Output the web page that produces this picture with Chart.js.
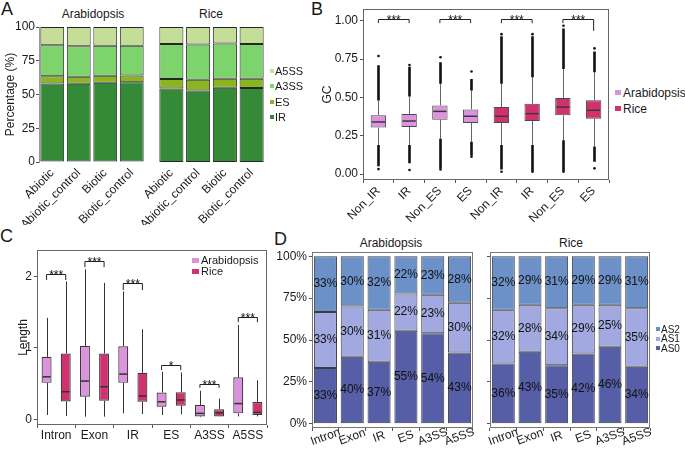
<!DOCTYPE html>
<html>
<head>
<meta charset="utf-8">
<script src="https://cdn.jsdelivr.net/npm/chart.js@4.4.1/dist/chart.umd.min.js"></script>
<style>
  body { margin: 0; background: #fff; font-family: "Liberation Sans", Arial, sans-serif; color: #1a1a1a; }
  #page { position: relative; width: 685px; height: 449px; overflow: hidden; }
  canvas, .txt, .legend { position: absolute; }
  .txt { font-size: 12px; line-height: 12px; white-space: nowrap; text-align: center; width: 120px; }
  .letter { font-size: 18px; line-height: 18px; text-align: left; width: 20px; }
  .legend div { white-space: nowrap; }
  .legend i { display: inline-block; vertical-align: middle; position: relative; top: -1px; }
</style>
</head>
<body>
<div id="page">
  <div class="txt letter" style="left:1px;top:0px">A</div>
  <div class="txt letter" style="left:311px;top:0px">B</div>
  <div class="txt letter" style="left:0px;top:227px">C</div>
  <div class="txt letter" style="left:274px;top:230px">D</div>
  <div class="txt" style="left:33px;top:8px">Arabidopsis</div>
  <div class="txt" style="left:151px;top:8px">Rice</div>
  <div class="txt" style="left:331px;top:237px">Arabidopsis</div>
  <div class="txt" style="left:511px;top:237px">Rice</div>

  <canvas id="chartA1" width="150" height="225" style="left:0;top:0"></canvas>
  <canvas id="chartA2" width="150" height="225" style="left:120px;top:0"></canvas>
  <canvas id="chartB" width="297" height="225" style="left:318px;top:0"></canvas>
  <canvas id="chartC" width="275" height="221" style="left:0;top:228px"></canvas>
  <canvas id="chartD1" width="206" height="221" style="left:272px;top:228px"></canvas>
  <canvas id="chartD2" width="195" height="221" style="left:460px;top:228px"></canvas>

  <div class="legend" id="legA" style="left:270px;top:64px;font-size:11px;line-height:15.3px"></div>
  <div class="legend" id="legB" style="left:615px;top:85px;font-size:12px;line-height:16px"></div>
  <div class="legend" id="legC" style="left:192px;top:255px;font-size:11px;line-height:11px"></div>
  <div class="legend" id="legD" style="left:656px;top:325px;font-size:10px;line-height:9.3px"></div>
</div>

<script>
// ---------- A: AS type share per condition ----------
const aConditions = ['Abiotic', 'Abiotic_control', 'Biotic', 'Biotic_control'];
const aTypes = ['IR', 'ES', 'A3SS', 'A5SS'];
const aColors = ['#358a38', '#8ab520', '#7dd46c', '#c4de98'];
const aTicks = [0, 25, 50, 75, 100];
const arabIR   = [58.2, 58.0, 58.7, 59.0];
const arabES   = [5.4, 5.1, 5.2, 5.1];
const arabA3SS = [22.8, 22.6, 22.3, 22.1];
const arabA5SS = [13.6, 14.3, 13.8, 13.8];
const riceIR   = [54.5, 53.0, 55.0, 54.8];
const riceES   = [6.9, 8.0, 6.7, 6.9];
const riceA3SS = [26.1, 26.0, 26.0, 25.8];
const riceA5SS = [12.5, 13.0, 12.3, 12.5];

// ---------- B: GC content boxplots ----------
const gcLabels  = ['Non_IR', 'IR', 'Non_ES', 'ES', 'Non_IR', 'IR', 'Non_ES', 'ES'];
const gcSpecies = ['Arabidopsis', 'Arabidopsis', 'Arabidopsis', 'Arabidopsis', 'Rice', 'Rice', 'Rice', 'Rice'];
const gcTicks   = [0, 0.25, 0.5, 0.75, 1];
const gcMin      = [0.032, 0.026, 0.030, 0.113, 0.015, 0.015, 0.015, 0.037];
const gcDenseLow = [0.050, 0.070, 0.035, 0.120, 0.030, 0.020, 0.020, 0.080];
const gcLow      = [0.190, 0.190, 0.230, 0.210, 0.190, 0.190, 0.220, 0.180];
const gcQ1       = [0.303, 0.307, 0.355, 0.333, 0.333, 0.346, 0.383, 0.361];
const gcMedian   = [0.340, 0.346, 0.409, 0.377, 0.377, 0.394, 0.437, 0.416];
const gcQ3       = [0.383, 0.392, 0.448, 0.422, 0.437, 0.459, 0.496, 0.481];
const gcHigh     = [0.480, 0.506, 0.590, 0.545, 0.590, 0.632, 0.686, 0.665];
const gcDenseHigh= [0.710, 0.700, 0.730, 0.620, 0.900, 0.900, 0.950, 0.800];
const gcMax      = [0.770, 0.712, 0.762, 0.669, 0.913, 0.913, 0.968, 0.820];
const gcSigFrom  = [0, 2, 4, 6];
const gcSigTo    = [1, 3, 5, 7];
const gcSigY     = [1.015, 1.015, 1.015, 1.015];
const gcSigLeft  = [0.985, 0.985, 0.985, 0.985];
const gcSigRight = [0.985, 0.985, 0.985, 0.935];

const speciesNames  = ['Arabidopsis', 'Rice'];
const speciesColors = ['#dc92dd', '#d1326f'];

// ---------- C: length boxplots ----------
const lenTypes = ['Intron', 'Exon', 'IR', 'ES', 'A3SS', 'A5SS'];
const lenTicks = [0, 1, 2];
const arabLenMin = [0.060, 0.037, 0.084, 0.060, 0.030, 0.040];
const arabLenQ1  = [0.510, 0.316, 0.510, 0.175, 0.040, 0.083];
const arabLenMed = [0.595, 0.535, 0.633, 0.245, 0.083, 0.220];
const arabLenQ3  = [0.874, 1.028, 1.023, 0.375, 0.200, 0.587];
const arabLenMax = [1.420, 2.100, 1.790, 0.665, 0.400, 1.320];
const riceLenMin = [0.047, 0.037, 0.074, 0.070, 0.037, 0.040];
const riceLenQ1  = [0.250, 0.260, 0.247, 0.190, 0.040, 0.060];
const riceLenMed = [0.386, 0.456, 0.326, 0.270, 0.090, 0.095];
const riceLenQ3  = [0.920, 0.920, 0.651, 0.380, 0.140, 0.243];
const riceLenMax = [1.930, 1.910, 1.260, 0.656, 0.290, 0.545];
const lenSigY     = [2.04, 2.21, 1.91, 0.76, 0.50, 1.43];
const lenSigLeft  = [1.95, 2.13, 1.81, 0.69, 0.44, 1.36];
const lenSigRight = [1.95, 2.13, 1.81, 0.69, 0.44, 1.36];
const lenSigText  = ['***', '***', '***', '*', '***', '***'];

// ---------- D: AS0/AS1/AS2 share ----------
const asTypes  = ['Intron', 'Exon', 'IR', 'ES', 'A3SS', 'A5SS'];
const asGroups = ['AS0', 'AS1', 'AS2'];
const asColors = ['#555ea6', '#a1a9e0', '#6b91c8'];
const asTicks  = [0, 25, 50, 75, 100];
const arabAS0 = [33, 40, 37, 55, 54, 43];
const arabAS1 = [33, 30, 31, 22, 23, 30];
const arabAS2 = [33, 30, 32, 22, 23, 28];
const riceAS0 = [36, 43, 35, 42, 46, 34];
const riceAS1 = [32, 28, 34, 29, 25, 35];
const riceAS2 = [32, 29, 31, 29, 29, 31];

Chart.defaults.font.family = '"Liberation Sans", Arial, sans-serif';
Chart.defaults.font.size = 12;
Chart.defaults.color = '#1a1a1a';
Chart.defaults.animation = false;
Chart.defaults.plugins.legend.display = false;
Chart.defaults.plugins.tooltip.enabled = false;

function fixWidth(w) { return s => { s.width = w; }; }
function fixHeight(h) { return s => { s.height = h; }; }
function tickAt(vals) { return s => { s.ticks = vals.map(v => ({ value: v })); }; }
const tickGrid = { display: true, drawOnChartArea: false, drawTicks: true, tickLength: 3, color: '#555' };

// panel frame round the plot area
const framePlugin = {
  id: 'frame',
  afterDraw(chart, args, opts) {
    if (!opts.color) return;
    const a = chart.chartArea, ctx = chart.ctx;
    ctx.save();
    ctx.strokeStyle = opts.color;
    ctx.lineWidth = 1;
    ctx.strokeRect(Math.round(a.left) + 0.5, Math.round(a.top) + 0.5,
      Math.round(a.right - a.left) - 1, Math.round(a.bottom - a.top) - 1);
    ctx.restore();
  }
};

// whiskers, medians and outliers for floating-bar boxes
const whiskerPlugin = {
  id: 'whiskers',
  afterDatasetsDraw(chart) {
    const ctx = chart.ctx, y = chart.scales.y;
    chart.data.datasets.forEach((ds, di) => {
      const b = ds.box;
      if (!b) return;
      chart.getDatasetMeta(di).data.forEach((bar, i) => {
        const x = Math.round(bar.x) + 0.5, half = bar.width / 2;
        ctx.save();
        ctx.strokeStyle = b.whisker;
        ctx.lineWidth = 1;
        ctx.beginPath();
        ctx.moveTo(x, y.getPixelForValue(b.q3[i])); ctx.lineTo(x, y.getPixelForValue(b.hi[i]));
        ctx.moveTo(x, y.getPixelForValue(b.q1[i])); ctx.lineTo(x, y.getPixelForValue(b.lo[i]));
        ctx.stroke();
        if (b.denseHi) {
          ctx.strokeStyle = '#111';
          ctx.lineWidth = 2.6;
          ctx.beginPath();
          ctx.moveTo(x, y.getPixelForValue(b.hi[i])); ctx.lineTo(x, y.getPixelForValue(b.denseHi[i]));
          ctx.moveTo(x, y.getPixelForValue(b.lo[i])); ctx.lineTo(x, y.getPixelForValue(b.denseLo[i]));
          ctx.stroke();
          ctx.fillStyle = '#111';
          [b.max[i], b.min[i]].forEach(v => {
            ctx.beginPath();
            ctx.arc(x, y.getPixelForValue(v), 1.3, 0, Math.PI * 2);
            ctx.fill();
          });
        }
        ctx.strokeStyle = b.medianColor;
        ctx.lineWidth = 1.5;
        ctx.beginPath();
        const my = y.getPixelForValue(b.med[i]);
        ctx.moveTo(bar.x - half + 1, my); ctx.lineTo(bar.x + half - 1, my);
        ctx.stroke();
        ctx.restore();
      });
    });
  }
};

// significance brackets with stars
const sigPlugin = {
  id: 'sig',
  afterDatasetsDraw(chart, args, opts) {
    if (!opts.items) return;
    const ctx = chart.ctx, y = chart.scales.y;
    opts.items.forEach(it => {
      const xa = chart.getDatasetMeta(it.a[0]).data[it.a[1]].x;
      const xb = chart.getDatasetMeta(it.b[0]).data[it.b[1]].x;
      const py = Math.round(y.getPixelForValue(it.y)) + 0.5;
      ctx.save();
      ctx.strokeStyle = '#222';
      ctx.lineWidth = 1;
      ctx.beginPath();
      ctx.moveTo(xa, y.getPixelForValue(it.ya));
      ctx.lineTo(xa, py); ctx.lineTo(xb, py);
      ctx.lineTo(xb, y.getPixelForValue(it.yb));
      ctx.stroke();
      ctx.fillStyle = '#111';
      ctx.font = '12px "Liberation Sans", Arial, sans-serif';
      ctx.textAlign = 'center';
      ctx.textBaseline = 'alphabetic';
      ctx.fillText(it.text, (xa + xb) / 2, py + 4);
      ctx.restore();
    });
  }
};

// percent labels in the middle of each stacked segment
const segLabelPlugin = {
  id: 'segLabels',
  afterDatasetsDraw(chart) {
    const ctx = chart.ctx;
    chart.data.datasets.forEach((ds, di) => {
      if (!ds.segLabels) return;
      chart.getDatasetMeta(di).data.forEach((bar, i) => {
        ctx.save();
        ctx.fillStyle = '#111';
        ctx.font = '12px "Liberation Sans", Arial, sans-serif';
        ctx.textAlign = 'center';
        ctx.textBaseline = 'middle';
        ctx.fillText(ds.segLabels[i] + '%', bar.x, (bar.y + bar.base) / 2);
        ctx.restore();
      });
    });
  }
};

// slanted, centred category labels (panel D)
const slantPlugin = {
  id: 'slant',
  afterDraw(chart, args, opts) {
    const ctx = chart.ctx, xs = chart.scales.x;
    chart.data.labels.forEach((t, i) => {
      ctx.save();
      ctx.translate(xs.getPixelForValue(i), xs.top + opts.offset);
      ctx.rotate(-opts.angle * Math.PI / 180);
      ctx.fillStyle = '#1a1a1a';
      ctx.font = '12px "Liberation Sans", Arial, sans-serif';
      ctx.textAlign = 'center';
      ctx.textBaseline = 'middle';
      ctx.fillText(t, 0, 0);
      ctx.restore();
    });
  }
};

Chart.register(framePlugin, whiskerPlugin, sigPlugin, segLabelPlugin);

// ---------- panel A ----------
function shareChart(id, rows, showY, yWidth) {
  return new Chart(document.getElementById(id), {
    type: 'bar',
    data: {
      labels: aConditions,
      datasets: aTypes.map((t, k) => ({
        label: t, data: rows[k], backgroundColor: aColors[k],
        borderColor: '#262626', borderWidth: 1, borderSkipped: false,
        barPercentage: 0.9, categoryPercentage: 1
      }))
    },
    options: {
      responsive: false,
      layout: { padding: { left: 0, right: 5, top: 27, bottom: 0 } },
      scales: {
        x: {
          stacked: true, grid: { display: false, drawTicks: false }, border: { display: false },
          ticks: { minRotation: 45, maxRotation: 45, autoSkip: false, padding: 4 },
          afterFit: fixHeight(63)
        },
        y: {
          stacked: true, display: showY, min: 0, max: 100, afterBuildTicks: tickAt(aTicks),
          grid: tickGrid, border: { display: true, color: '#999' },
          ticks: { padding: 1 },
          title: { display: true, text: 'Percentage (%)', padding: { top: 3, bottom: 0 } },
          afterFit: fixWidth(yWidth)
        }
      }
    }
  });
}
shareChart('chartA1', [arabIR, arabES, arabA3SS, arabA5SS], true, 39);
shareChart('chartA2', [riceIR, riceES, riceA3SS, riceA5SS], false, 38);

// ---------- panel B ----------
new Chart(document.getElementById('chartB'), {
  type: 'bar',
  data: {
    labels: gcLabels,
    datasets: [{
      data: gcQ1.map((v, i) => [v, gcQ3[i]]),
      backgroundColor: gcSpecies.map(s => speciesColors[speciesNames.indexOf(s)]),
      borderColor: '#4a4a4a', borderWidth: 1, borderSkipped: false,
      barPercentage: 0.5, categoryPercentage: 1,
      box: { q1: gcQ1, q3: gcQ3, med: gcMedian, lo: gcLow, hi: gcHigh,
             denseLo: gcDenseLow, denseHi: gcDenseHigh, min: gcMin, max: gcMax,
             whisker: '#666', medianColor: '#3a3a3a' }
    }]
  },
  options: {
    responsive: false,
    layout: { padding: { left: 0, right: 6, top: 8, bottom: 0 } },
    plugins: {
      frame: { color: '#666' },
      sig: { items: gcSigFrom.map((f, k) => ({ a: [0, f], b: [0, gcSigTo[k]], y: gcSigY[k], ya: gcSigLeft[k], yb: gcSigRight[k], text: '***' })) }
    },
    scales: {
      x: {
        grid: tickGrid, border: { display: false },
        ticks: { minRotation: 45, maxRotation: 45, autoSkip: false, padding: 1 },
        afterFit: fixHeight(45)
      },
      y: {
        min: -0.039, max: 1.076, afterBuildTicks: tickAt(gcTicks),
        grid: tickGrid, border: { display: false },
        ticks: { padding: 2, callback: v => v.toFixed(2) },
        title: { display: true, text: 'GC', padding: { top: 2, bottom: 0 } },
        afterFit: fixWidth(45)
      }
    }
  }
});

// ---------- panel C ----------
const lenStats = [
  { q1: arabLenQ1, q3: arabLenQ3, med: arabLenMed, lo: arabLenMin, hi: arabLenMax },
  { q1: riceLenQ1, q3: riceLenQ3, med: riceLenMed, lo: riceLenMin, hi: riceLenMax }
];
new Chart(document.getElementById('chartC'), {
  type: 'bar',
  data: {
    labels: lenTypes,
    datasets: lenStats.map((st, k) => ({
      label: speciesNames[k],
      data: st.q1.map((v, i) => [v, st.q3[i]]),
      backgroundColor: speciesColors[k],
      borderColor: '#3a3a3a', borderWidth: 1.2, borderSkipped: false,
      barPercentage: 0.52, categoryPercentage: 1,
      box: Object.assign({ whisker: '#333', medianColor: '#333' }, st)
    }))
  },
  options: {
    responsive: false,
    layout: { padding: { left: 0, right: 8, top: 22, bottom: 0 } },
    plugins: {
      frame: { color: '#666' },
      sig: { items: lenTypes.map((t, i) => ({ a: [0, i], b: [1, i], y: lenSigY[i], ya: lenSigLeft[i], yb: lenSigRight[i], text: lenSigText[i] })) }
    },
    scales: {
      x: {
        grid: tickGrid, border: { display: false },
        ticks: { padding: 0, autoSkip: false },
        afterFit: fixHeight(24)
      },
      y: {
        min: -0.08, max: 2.37, afterBuildTicks: tickAt(lenTicks),
        grid: tickGrid, border: { display: false },
        ticks: { padding: 2 },
        title: { display: true, text: 'Length', padding: { top: 16, bottom: 0 } },
        afterFit: fixWidth(37)
      }
    }
  }
});

// ---------- panel D ----------
function asChart(id, counts, showLabels, yWidth) {
  const totals = counts[0].map((v, i) => v + counts[1][i] + counts[2][i]);
  return new Chart(document.getElementById(id), {
    type: 'bar',
    data: {
      labels: asTypes,
      datasets: asGroups.map((g, k) => ({
        label: g,
        data: counts[k].map((v, i) => v / totals[i] * 100),
        segLabels: counts[k],
        backgroundColor: asColors[k],
        borderColor: '#3c3c3c', borderWidth: 1, borderSkipped: false,
        barPercentage: 0.86, categoryPercentage: 1
      }))
    },
    options: {
      responsive: false,
      layout: { padding: { left: 0, right: 5, top: 24, bottom: 0 } },
      plugins: { frame: { color: '#777' }, slant: { angle: 20, offset: 9 } },
      scales: {
        x: {
          stacked: true, grid: tickGrid, border: { display: false },
          ticks: { display: false },
          afterFit: fixHeight(21)
        },
        y: {
          stacked: true, min: -2.5, max: 102.5, afterBuildTicks: tickAt(asTicks),
          grid: tickGrid, border: { display: false },
          ticks: { padding: 2, callback: v => showLabels ? v + '%' : '' },
          afterFit: fixWidth(yWidth)
        }
      }
    },
    plugins: [slantPlugin]
  });
}
asChart('chartD1', [arabAS0, arabAS1, arabAS2], true, 40);
asChart('chartD2', [riceAS0, riceAS1, riceAS2], false, 30);

// ---------- legends ----------
function legend(id, names, colors, w, h, gap) {
  const box = document.getElementById(id);
  names.forEach((n, k) => {
    const row = document.createElement('div');
    const sw = document.createElement('i');
    sw.style.cssText = `width:${w}px;height:${h}px;background:${colors[k]};margin-right:${gap}px`;
    row.append(sw, n);
    box.append(row);
  });
}
legend('legA', aTypes.slice().reverse(), aColors.slice().reverse(), 4, 4, 1);
legend('legB', speciesNames, speciesColors, 6, 5, 2);
legend('legC', speciesNames, speciesColors, 7, 5, 2);
legend('legD', asGroups.slice().reverse(), asColors.slice().reverse(), 4, 4, 1);
</script>
</body>
</html>
